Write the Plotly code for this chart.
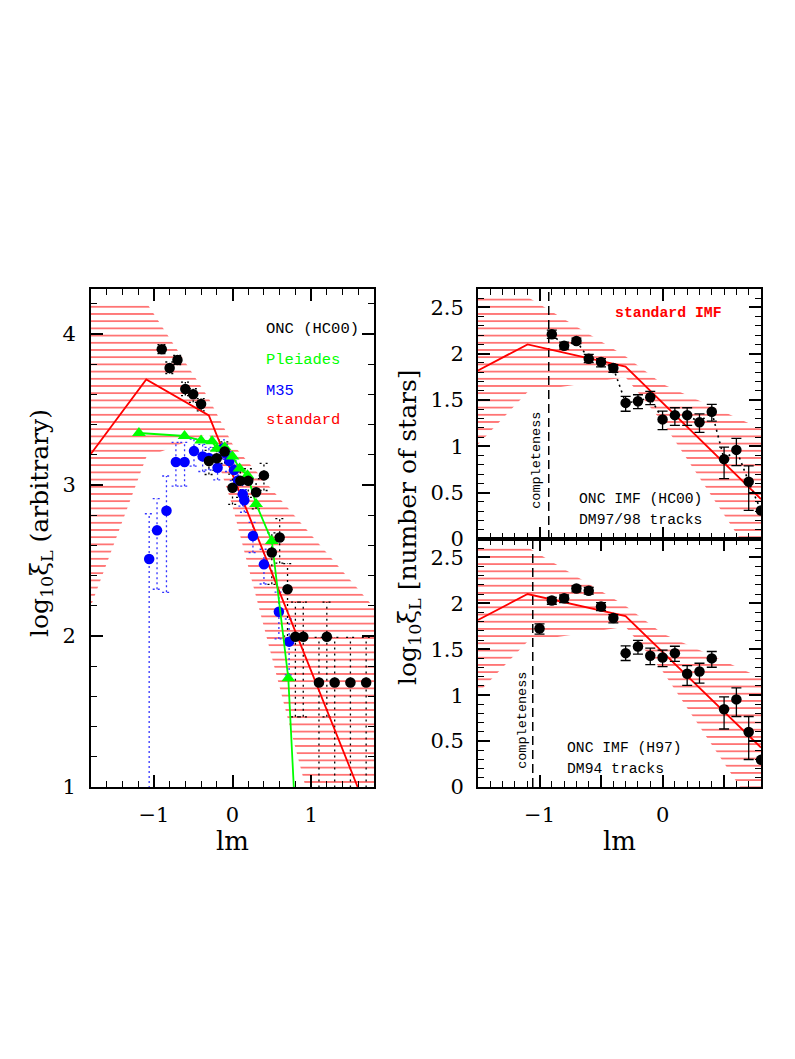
import plotly.graph_objects as go

W, H = 795, 1059

# ---------------- data ----------------
# standard IMF (broken power law) vertices: left panel / right panels
std_lm_L = [-1.8, -1.097, -0.301, 1.8]
std_L = [3.208, 3.700, 3.461, 0.730]
std_lm_R = [-1.5, -1.097, -0.301, 0.8]
std_R = [1.818, 2.100, 1.861, 0.430]

# hatched uncertainty band envelopes
band_lm_L = [-1.8, -1.097, -0.301, 0.0, 1.8]
band_hi_L = [4.21, 4.21, 3.573, 3.272, 2.19]
band_lo_L = [2.20, 3.185, 3.344, 2.86, -0.74]
band_lm_R = [-1.5, -1.097, -0.301, 0.0, 0.8]
band_hi_R = [2.61, 2.61, 1.973, 1.672, 1.19]
band_lo_R = [1.02, 1.585, 1.744, 1.26, -0.34]

# ONC (HC00) in left panel
onc_lm = [-0.9, -0.8, -0.7, -0.6, -0.5, -0.4, -0.3, -0.2, -0.1, 0.0, 0.1, 0.2,
          0.3, 0.4, 0.5, 0.6, 0.7, 0.8, 0.9, 1.1, 1.2, 1.3, 1.5, 1.7]
onc_val = [3.90, 3.775, 3.828, 3.636, 3.602, 3.537, 3.16, 3.178, 3.222, 2.982, 3.028, 3.028,
           2.952, 3.064, 2.553, 2.653, 2.31, 1.995, 1.995, 1.692, 1.995, 1.692, 1.692, 1.692]
onc_up = [0.03, 0.04, 0.03, 0.046, 0.036, 0.036, 0.07, 0.07, 0.064, 0.09, 0.08, 0.08,
          0.09, 0.08, 0.13, 0.125, 0.17, 0.23, 0.23, 0.30, 0.23, 0.30, 0.30, 0.30]
onc_dn = [0.03, 0.036, 0.03, 0.043, 0.054, 0.046, 0.09, 0.08, 0.079, 0.11, 0.11, 0.11,
          0.11, 0.10, 0.21, 0.17, 0.31, 0.53, 0.53, 9.0, 0.53, 9.0, 9.0, 9.0]

# Pleiades
ple_lm = [-1.19, -0.61, -0.40, -0.26, -0.20, -0.10, 0.0, 0.09, 0.19, 0.30, 0.50, 0.71, 0.90]
ple_val = [3.345, 3.325, 3.295, 3.29, 3.24, 3.25, 3.19, 3.11, 3.065, 2.875, 2.63, 1.72, -0.24]

# M35
m35_lm = [-1.06, -0.96, -0.84, -0.72, -0.61, -0.49, -0.38, -0.30, -0.19, -0.13, -0.09,
          -0.04, 0.02, 0.07, 0.13, 0.15, 0.26, 0.40, 0.59, 0.72]
m35_val = [2.51, 2.70, 2.83, 3.153, 3.153, 3.225, 3.19, 3.18, 3.115, 3.24, 3.21,
           3.16, 3.10, 3.03, 2.94, 2.90, 2.663, 2.475, 2.161, 1.963]
m35_up = [0.30, 0.21, 0.23, 0.13, 0.13, 0.08, 0.08, 0.07, 0.07, 0.06, 0.06,
          0.06, 0.06, 0.06, 0.07, 0.07, 0.09, 0.10, 0.13, 0.15]
m35_dn = [9.0, 0.39, 0.54, 0.16, 0.16, 0.10, 0.10, 0.08, 0.08, 0.07, 0.07,
          0.07, 0.07, 0.07, 0.08, 0.08, 0.11, 0.13, 0.18, 0.22]

# ONC IMF (HC00), DM97/98 tracks (top right)
rt_lm = [-0.9, -0.8, -0.7, -0.6, -0.5, -0.4, -0.3, -0.2, -0.1, 0.0, 0.1, 0.2, 0.3,
         0.4, 0.5, 0.6, 0.7, 0.8]
rt_val = [2.21, 2.085, 2.137, 1.945, 1.91, 1.845, 1.468, 1.486, 1.529, 1.29, 1.336, 1.336,
          1.26, 1.372, 0.861, 0.961, 0.618, 0.307]
rt_up = [0.043, 0.040, 0.030, 0.046, 0.036, 0.036, 0.070, 0.070, 0.064, 0.090, 0.080, 0.080,
         0.090, 0.080, 0.130, 0.125, 0.170, 0.0]
rt_dn = [0.046, 0.036, 0.030, 0.043, 0.054, 0.046, 0.090, 0.080, 0.079, 0.110, 0.110, 0.110,
         0.110, 0.100, 0.210, 0.170, 0.310, 0.0]

# ONC IMF (H97), DM94 tracks (bottom right)
rb_lm = [-1.0, -0.9, -0.8, -0.7, -0.6, -0.5, -0.4, -0.3, -0.2, -0.1, 0.0, 0.1, 0.2, 0.3,
         0.4, 0.5, 0.6, 0.7, 0.8]
rb_val = [1.725, 2.029, 2.054, 2.16, 2.136, 1.964, 1.84, 1.457, 1.529, 1.429, 1.41, 1.457,
          1.232, 1.257, 1.40, 0.846, 0.954, 0.60, 0.296]
rb_up = [0.05, 0.036, 0.036, 0.03, 0.036, 0.043, 0.036, 0.08, 0.068, 0.082, 0.079, 0.075,
         0.09, 0.09, 0.075, 0.136, 0.125, 0.168, 0.0]
rb_dn = [0.06, 0.04, 0.046, 0.036, 0.036, 0.043, 0.054, 0.08, 0.082, 0.096, 0.10, 0.09,
         0.125, 0.125, 0.096, 0.214, 0.186, 0.30, 0.0]

compl_top = -0.925
compl_bot = -1.055

# ---------------- helpers ----------------
def px(x):
    return x / W


def py(y):
    return 1 - y / H


def err_path(xs, ys, ups, dns, hw):
    X, Y = [], []
    for x, y, u, d in zip(xs, ys, ups, dns):
        X += [x, x, None, x - hw, x + hw, None, x - hw, x + hw, None]
        Y += [y - d, y + u, None, y + u, y + u, None, y - d, y - d, None]
    return X, Y


def band_trace(lm, hi, lo, xa, ya):
    return go.Scatter(
        x=lm + lm[::-1], y=hi + lo[::-1], xaxis=xa, yaxis=ya,
        mode='lines', line=dict(width=0, color='rgba(0,0,0,0)'),
        fill='toself', fillcolor='rgba(0,0,0,0)',
        fillpattern=dict(shape='-', size=7.2, solidity=0.19,
                         fgcolor='rgba(255,0,0,0.72)', bgcolor='rgba(0,0,0,0)',
                         fillmode='replace'),
        hoverinfo='skip', showlegend=False)


fig = go.Figure()

# ---- left panel ----
fig.add_trace(band_trace(band_lm_L, band_hi_L, band_lo_L, 'x', 'y'))
ex, ey = err_path(m35_lm, m35_val, m35_up, m35_dn, 0.055)
fig.add_trace(go.Scatter(x=ex, y=ey, xaxis='x', yaxis='y', mode='lines',
                         line=dict(color='#3333ff', width=1.3, dash='2px,3px'),
                         showlegend=False, hoverinfo='skip'))
ex, ey = err_path(onc_lm, onc_val, onc_up, onc_dn, 0.055)
fig.add_trace(go.Scatter(x=ex, y=ey, xaxis='x', yaxis='y', mode='lines',
                         line=dict(color='black', width=1.3, dash='2px,4px'),
                         showlegend=False, hoverinfo='skip'))
fig.add_trace(go.Scatter(x=std_lm_L, y=std_L, xaxis='x', yaxis='y', mode='lines',
                         line=dict(color='#ff0000', width=1.8), showlegend=False))
fig.add_trace(go.Scatter(x=m35_lm, y=m35_val, xaxis='x', yaxis='y', mode='markers',
                         marker=dict(color='#0000ff', size=10.5, symbol='circle'),
                         showlegend=False))
fig.add_trace(go.Scatter(x=ple_lm, y=ple_val, xaxis='x', yaxis='y', mode='lines+markers',
                         line=dict(color='#00ff00', width=1.8),
                         marker=dict(color='#00ff00', size=12, symbol='triangle-up'),
                         showlegend=False))
fig.add_trace(go.Scatter(x=onc_lm, y=onc_val, xaxis='x', yaxis='y', mode='markers',
                         marker=dict(color='black', size=10.5, symbol='circle'),
                         showlegend=False))

# ---- right panels ----
for xa, ya, comp in (('x2', 'y2', compl_top), ('x3', 'y3', compl_bot)):
    fig.add_trace(band_trace(band_lm_R, band_hi_R, band_lo_R, xa, ya))
    fig.add_trace(go.Scatter(x=[comp, comp], y=[0, 2.7], xaxis=xa, yaxis=ya, mode='lines',
                             line=dict(color='black', width=1.5, dash='9px,5px'),
                             showlegend=False))
    fig.add_trace(go.Scatter(x=std_lm_R, y=std_R, xaxis=xa, yaxis=ya, mode='lines',
                             line=dict(color='#ff0000', width=1.8), showlegend=False))

fig.add_trace(go.Scatter(x=rt_lm, y=rt_val, xaxis='x2', yaxis='y2', mode='lines',
                         line=dict(color='black', width=1.6, dash='2px,4px'),
                         showlegend=False))
fig.add_trace(go.Scatter(x=rt_lm, y=rt_val, xaxis='x2', yaxis='y2', mode='markers',
                         marker=dict(color='black', size=10.5),
                         error_y=dict(type='data', symmetric=False, array=rt_up,
                                      arrayminus=rt_dn, color='black', thickness=1.3,
                                      width=5),
                         showlegend=False))
fig.add_trace(go.Scatter(x=rb_lm, y=rb_val, xaxis='x3', yaxis='y3', mode='markers',
                         marker=dict(color='black', size=10.5),
                         error_y=dict(type='data', symmetric=False, array=rb_up,
                                      arrayminus=rb_dn, color='black', thickness=1.3,
                                      width=5),
                         showlegend=False))

# ---------------- axes ----------------
TF = dict(family='DejaVu Serif', size=21, color='black')


def axis(domain, rng, tv, tt, mdt, anchor, labels=True, standoff=8):
    return dict(domain=domain, range=rng, tickmode='array', tickvals=tv, ticktext=tt,
                ticks='inside', ticklen=12, tickwidth=1.5, tickcolor='black',
                minor=dict(ticks='inside', ticklen=6, tickwidth=1.2, tickcolor='black',
                           dtick=mdt, tick0=0, showgrid=False),
                showline=True, linecolor='black', linewidth=1.8, mirror='ticks',
                showgrid=False, zeroline=False, anchor=anchor, showticklabels=labels,
                tickfont=TF, ticklabelstandoff=standoff)


xl = [px(83), px(366)]
xr = [px(470), px(753)]
yl = [py(788), py(284)]
yt = [py(537), py(284)]
yb = [py(788), py(537)]

rx_tv = [-1.5, -1.0, -0.5, 0.0, 0.5]
rx_tt = ['', '\u22121', '', '0', '']
ry_tv = [0, 0.5, 1, 1.5, 2, 2.5]
ry_tt = ['0', '0.5', '1', '1.5', '2', '2.5']

fig.update_layout(
    width=W, height=H, margin=dict(l=0, r=0, t=0, b=0),
    paper_bgcolor='white', plot_bgcolor='white', showlegend=False,
    xaxis=axis(xl, [-1.8, 1.8], [-1, 0, 1], ['\u22121', '0', '1'], 0.2, 'y', True, 8),
    yaxis=axis(yl, [1, 4.3], [1, 2, 3, 4], ['1', '2', '3', '4'], 0.2, 'x', True, 9),
    xaxis2=axis(xr, [-1.5, 0.8], rx_tv, rx_tt, 0.1, 'y2', False),
    yaxis2=axis(yt, [0, 2.7], ry_tv, ry_tt, 0.1, 'x2', True, 8),
    xaxis3=axis(xr, [-1.5, 0.8], rx_tv, rx_tt, 0.1, 'y3', True, 8),
    yaxis3=axis(yb, [0, 2.7], ry_tv, ry_tt, 0.1, 'x3', True, 8),
)

MONO = 'Liberation Mono'
ann = []


def label(text, x, y, color='black', size=15.5, anchor='left', angle=0, fam=MONO):
    ann.append(dict(text=text, x=px(x), y=py(y), xref='paper', yref='paper',
                    xanchor=anchor, yanchor='middle', showarrow=False, textangle=angle,
                    font=dict(family=fam, size=size, color=color)))


label('ONC (HC00)', 256, 325)
label('Pleiades', 256, 356, '#00ff00')
label('M35', 256, 387, '#0000ff')
label('standard', 256, 417, '#ff0000')
label('<b>standard IMF</b>', 605, 308, '#ff0000', 14.8)
label('ONC IMF (HC00)', 569, 497, size=14.7)
label('DM97/98 tracks', 569, 518, size=14.7)
label('ONC IMF (H97)', 557, 748, size=14.7)
label('DM94 tracks', 557, 770, size=14.7)
label('completeness', 529, 458, size=13.5, anchor='center', angle=-90)
label('completeness', 515, 721, size=13.5, anchor='center', angle=-90)

SER = 'DejaVu Serif'
label('lm', 224.5, 843, size=26, anchor='center', fam=SER)
label('lm', 611.5, 843, size=26, anchor='center', fam=SER)
label('log<sub>10</sub>\u03be<sub>L</sub> (arbitrary)', 33, 521, size=25, anchor='center',
      angle=-90, fam=SER)
label('log<sub>10</sub>\u03be<sub>L</sub> [number of stars]', 401, 525, size=25,
      anchor='center', angle=-90, fam=SER)

fig.update_layout(annotations=ann)
fig.write_html('out.html')
